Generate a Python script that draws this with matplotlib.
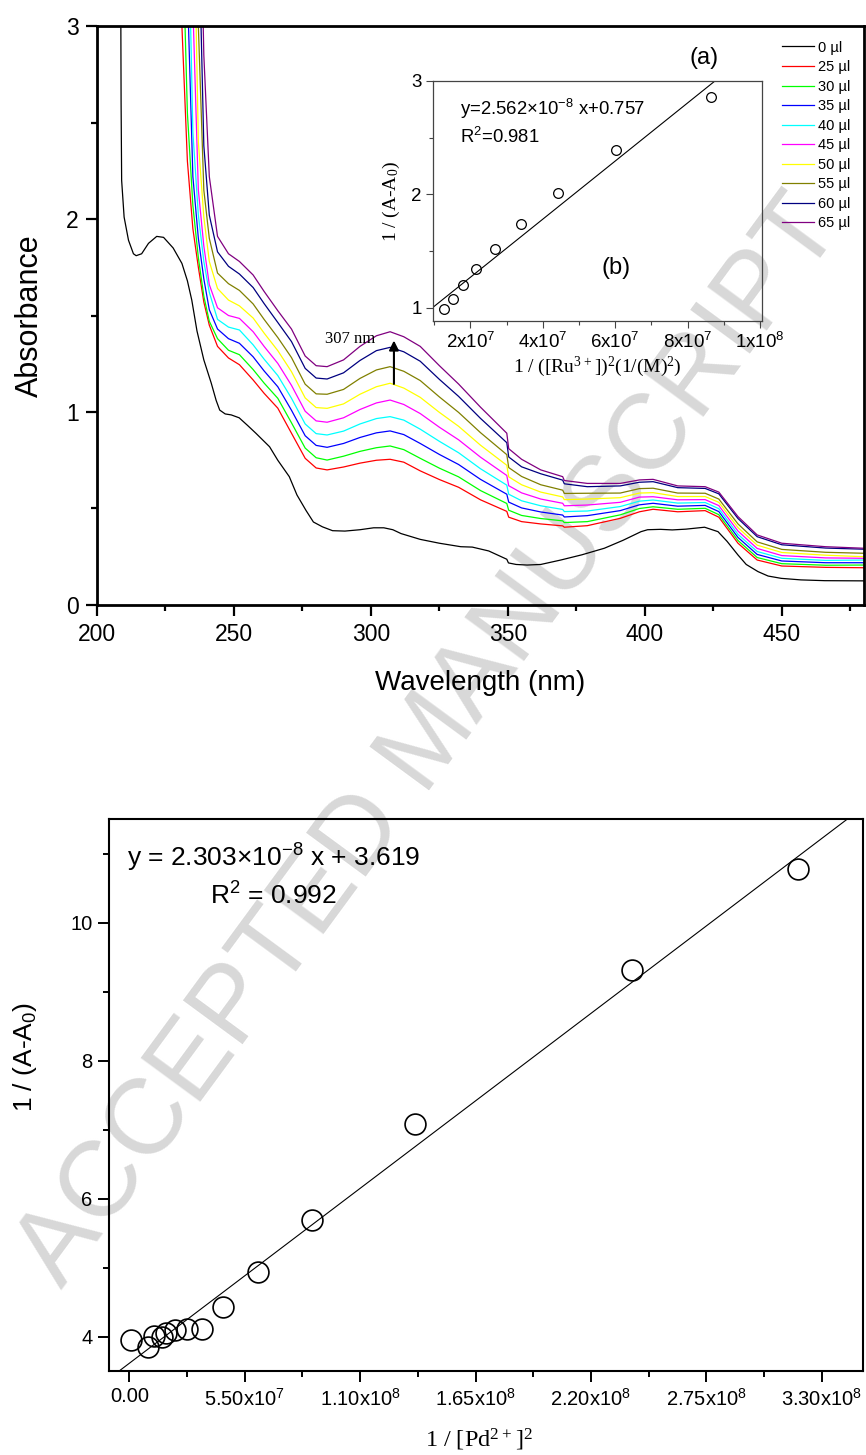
import numpy as np
import matplotlib
matplotlib.use('Agg')
import matplotlib.pyplot as plt
from matplotlib.ticker import MultipleLocator, FixedLocator, FixedFormatter

plt.rcParams['font.family'] = ['Liberation Sans', 'DejaVu Sans']
plt.rcParams['mathtext.default'] = 'regular'
SERIF = ['Liberation Serif', 'DejaVu Serif']

# ---- UV-vis spectra ----
black_wl = [208.6, 208.8, 209.0, 209.9, 211.5, 213.3, 214.3, 216.3, 218.8, 221.8, 224.3, 227.8,
            231, 233, 234.6, 236.5, 239, 241.7, 243.5, 244.8, 246.8, 249, 251.9, 255, 258, 263,
            266, 270.2, 273, 276.3, 279, 282.3, 286, 290.5, 296, 301, 304.7, 308, 311, 318, 325,
            332.8, 337, 343, 349.6, 350.2, 353, 357, 362, 369.3, 377, 385.2, 392, 398.6, 401,
            405.7, 410, 415, 421.8, 426.7, 430, 434, 437, 441.3, 445, 449.8, 457, 465.7, 480]
black_abs = [3.5, 2.6, 2.2, 2.01, 1.89, 1.82, 1.81, 1.82, 1.874, 1.91, 1.905, 1.85,
             1.77, 1.68, 1.58, 1.42, 1.27, 1.15, 1.06, 1.01, 0.99, 0.985, 0.97, 0.93, 0.89, 0.82,
             0.75, 0.665, 0.57, 0.49, 0.43, 0.405, 0.385, 0.383, 0.39, 0.40, 0.40, 0.39, 0.37, 0.34, 0.32,
             0.302, 0.30, 0.28, 0.237, 0.218, 0.21, 0.207, 0.21, 0.233, 0.26, 0.294, 0.335, 0.38, 0.39,
             0.392, 0.389, 0.393, 0.403, 0.38, 0.33, 0.259, 0.21, 0.173, 0.15, 0.138, 0.13, 0.126, 0.125]

wl = [229, 231, 233, 235, 237, 239, 241, 244, 248, 252, 257, 261, 266, 271, 276, 280, 284, 290,
      296, 302, 307, 312, 318, 325, 332, 340, 349.6, 350.3, 355, 362, 370, 370.6, 379, 391, 398,
      403, 412, 422, 427, 434, 441, 450, 466, 480]

abs_25 = [3.8, 3.0, 2.30, 1.95, 1.75, 1.57, 1.45, 1.34, 1.28, 1.245, 1.166, 1.097, 1.02, .89, .76,
          .71, .70, .715, .735, .75, .755, .74, .695, .65, .61, .545, .485, .455, .432, .42, .41,
          .403, .411, .449, .483, .496, .483, .489, .455, .32, .233, .202, .195, .193]
abs_30 = [4.5, 3.6, 2.55, 2.07, 1.80, 1.60, 1.47, 1.38, 1.32, 1.297, 1.220, 1.150, 1.071, .944,
          .813, .763, .751, .771, .796, .815, .824, .805, .760, .709, .664, .593, .526, .491, .464,
          .448, .436, .427, .432, .467, .50, .509, .496, .501, .468, .334, .246, .214, .206, .207]
abs_35 = [5.2, 4.2, 3.2, 2.22, 1.90, 1.69, 1.53, 1.43, 1.38, 1.356, 1.286, 1.213, 1.131, 1.009,
          .877, .827, .817, .837, .868, .892, .902, .883, .837, .780, .728, .651, .574, .533, .503,
          .482, .466, .456, .463, .489, .519, .527, .512, .516, .484, .350, .262, .228, .219, .219]
abs_40 = [6.0, 5.0, 3.8, 2.45, 2.02, 1.78, 1.62, 1.48, 1.44, 1.425, 1.348, 1.274, 1.189, 1.071,
          .938, .888, .881, .901, .938, .966, .976, .958, .911, .848, .789, .706, .621, .574, .540,
          .514, .495, .484, .487, .510, .538, .544, .528, .531, .499, .366, .277, .242, .231, .233]
abs_45 = [6.5, 5.6, 4.6, 3.1, 2.15, 1.86, 1.66, 1.54, 1.50, 1.485, 1.416, 1.340, 1.252, 1.138,
          1.004, .954, .947, .970, 1.013, 1.047, 1.062, 1.039, .992, .921, .856, .766, .671, .618,
          .581, .549, .527, .514, .518, .532, .559, .561, .545, .546, .515, .383, .293, .256, .244, .242]
abs_50 = [7.0, 6.2, 5.5, 3.9, 2.40, 2.01, 1.78, 1.64, 1.58, 1.55, 1.487, 1.409, 1.318, 1.209,
          1.073, 1.023, 1.019, 1.042, 1.092, 1.131, 1.149, 1.124, 1.076, .998, .926, .828, .724,
          .664, .623, .585, .560, .546, .549, .556, .580, .582, .562, .562, .532, .401, .310, .272,
          .258, .250]
abs_55 = [7.5, 7.0, 6.2, 4.6, 3.0, 2.15, 1.90, 1.72, 1.665, 1.63, 1.560, 1.480, 1.386, 1.282,
          1.144, 1.094, 1.092, 1.117, 1.174, 1.218, 1.235, 1.211, 1.163, 1.078, .998, .893, .779,
          .712, .666, .623, .595, .578, .579, .580, .603, .605, .580, .579, .549, .420, .327, .288,
          .273, .268]
abs_60 = [8.0, 7.5, 7.0, 5.5, 3.6, 2.38, 2.02, 1.83, 1.755, 1.715, 1.645, 1.562, 1.464, 1.365,
          1.226, 1.176, 1.171, 1.203, 1.267, 1.318, 1.335, 1.312, 1.263, 1.169, 1.081, .967, .841,
          .767, .716, .680, .647, .628, .613, .617, .636, .639, .608, .604, .576, .448, .354, .312,
          .295, .289]
abs_65 = [8.0, 8.0, 7.5, 6.5, 4.2, 2.85, 2.22, 1.91, 1.82, 1.78, 1.71, 1.625, 1.525, 1.43, 1.29,
          1.24, 1.235, 1.27, 1.34, 1.395, 1.416, 1.39, 1.34, 1.24, 1.145, 1.025, .89, .81, .755,
          .70, .665, .645, .63, .63, .648, .651, .617, .613, .585, .458, .363, .32, .302, .294]

series_labels = ['25 µl', '30 µl', '35 µl', '40 µl', '45 µl', '50 µl', '55 µl', '60 µl', '65 µl']
series_colors = ['#ff0000', '#00ff00', '#0000ff', '#00ffff', '#ff00ff', '#ffff00', '#808000',
                 '#000080', '#800080']
series_values = [abs_25, abs_30, abs_35, abs_40, abs_45, abs_50, abs_55, abs_60, abs_65]

# ---- inset (b): Ru3+ ----
ru_x = [1.28e7, 1.52e7, 1.79e7, 2.16e7, 2.68e7, 3.40e7, 4.43e7, 6.02e7, 8.64e7]
ru_y = [0.99, 1.08, 1.20, 1.34, 1.52, 1.74, 2.01, 2.39, 2.86]
ru_slope, ru_icpt = 2.562e-8, 0.757

# ---- lower plot: Pd2+ ----
pd_x = [0.067e7, 0.906e7, 1.18e7, 1.54e7, 1.75e7, 2.18e7, 2.76e7, 3.48e7, 4.48e7, 6.12e7,
        8.72e7, 13.62e7, 23.97e7, 31.86e7]
pd_y = [3.96, 3.85, 4.02, 4.00, 4.06, 4.10, 4.12, 4.11, 4.43, 4.94, 5.69, 7.09, 9.32, 10.78]
pd_slope, pd_icpt = 2.303e-8, 3.619
pd_ticks = [0, 5.5e7, 1.1e8, 1.65e8, 2.2e8, 2.75e8, 3.3e8]
pd_ticklabels = ['0.00', '5.50x10$^{7}$', '1.10x10$^{8}$', '1.65x10$^{8}$', '2.20x10$^{8}$',
                 '2.75x10$^{8}$', '3.30x10$^{8}$']

fig = plt.figure(figsize=(8.66, 14.55), dpi=100)

# watermark behind everything
fig.text(0.4965, 0.49, 'ACCEPTED MANUSCRIPT', rotation=53.7, ha='center', va='center',
         fontsize=77, color='#d8d8d8', zorder=-5)

# ---------- top: spectra ----------
ax = fig.add_axes([0.112, 0.5842, 0.8857, 0.3979])
ax.set_facecolor('none')
ax.plot(black_wl, black_abs, color='k', lw=0.9, label='0 µl')
for lab, col, vals in zip(series_labels, series_colors, series_values):
    ax.plot(wl, vals, color=col, lw=0.9, label=lab)
ax.set_xlim(200, 480)
ax.set_ylim(0, 3)
ax.xaxis.set_major_locator(MultipleLocator(50))
ax.xaxis.set_minor_locator(MultipleLocator(25))
ax.yaxis.set_major_locator(MultipleLocator(1))
ax.yaxis.set_minor_locator(MultipleLocator(0.5))
ax.tick_params(which='major', direction='out', length=8, width=1.6, labelsize=16.5, pad=5)
ax.tick_params(which='minor', direction='out', length=4.5, width=1.6)
for s in ax.spines.values():
    s.set_linewidth(2)
ax.set_xlabel('Wavelength (nm)', fontsize=20, va='center')
ax.xaxis.set_label_coords(0.5, -0.1347)
ax.set_ylabel('Absorbance', fontsize=22, va='center')
ax.yaxis.set_label_coords(-0.0874, 0.5)

ax.annotate('', xy=(308.4, 1.385), xytext=(308.4, 1.131),
            arrowprops=dict(arrowstyle='-|>', color='k', lw=1.5, mutation_scale=14))
ax.text(283.4, 1.357, '307 nm', fontsize=12, family=SERIF, va='baseline', ha='left')
ax.text(0.7914, 0.9447, '(a)', transform=ax.transAxes, fontsize=17, ha='center', va='center')

leg = ax.legend(loc='upper left', bbox_to_anchor=(0.885, 0.985), frameon=False, fontsize=10.5,
                handlelength=2.2, handletextpad=0.3, labelspacing=0.38, borderaxespad=0)

# ---------- inset ----------
ins = fig.add_axes([0.5, 0.7794, 0.3799, 0.165])
ins.set_facecolor('none')
ins.plot(ru_x, ru_y, 'o', mfc='none', mec='k', ms=7, mew=0.9)
fx = np.array([0.97e7, 1.005e8])
ins.plot(fx, ru_slope * fx + ru_icpt, color='k', lw=0.8)
ins.set_xlim(0.97e7, 1.005e8)
ins.set_ylim(0.885, 3.0)
ins.xaxis.set_major_locator(FixedLocator([2e7, 4e7, 6e7, 8e7, 1e8]))
ins.xaxis.set_major_formatter(FixedFormatter(['2x10$^{7}$', '4x10$^{7}$', '6x10$^{7}$',
                                              '8x10$^{7}$', '1x10$^{8}$']))
ins.xaxis.set_minor_locator(FixedLocator([1e7, 3e7, 5e7, 7e7, 9e7]))
ins.yaxis.set_major_locator(MultipleLocator(1))
ins.yaxis.set_minor_locator(MultipleLocator(0.5))
ins.tick_params(which='major', direction='out', length=5, width=0.8, labelsize=13.5, pad=3,
                color='#444444')
ins.tick_params(which='minor', direction='out', length=3, width=0.8, color='#444444')
for s in ins.spines.values():
    s.set_linewidth(0.9)
    s.set_color('#444444')
ins.set_xlabel('1 / ([Ru$^{3+}$])$^{2}$(1/(M)$^{2}$)', fontsize=14, family=SERIF, va='center')
ins.xaxis.set_label_coords(0.5, -0.192)
ins.set_ylabel('1 / (A-A$_{0}$)', fontsize=14, family=SERIF, va='center')
ins.yaxis.set_label_coords(-0.125, 0.5)
ins.text(0.082, 0.858, 'y=2.562×10$^{-8}$ x+0.757', transform=ins.transAxes, fontsize=13.3,
         va='baseline')
ins.text(0.082, 0.742, 'R$^{2}$=0.981', transform=ins.transAxes, fontsize=13.3, va='baseline')
ins.text(0.556, 0.221, '(b)', transform=ins.transAxes, fontsize=17, ha='center', va='center')

# ---------- bottom: Pd2+ linear fit ----------
bx = fig.add_axes([0.1259, 0.0579, 0.8703, 0.3792])
bx.set_facecolor('none')
bx.plot(pd_x, pd_y, 'o', mfc='none', mec='k', ms=15, mew=1.2)
lx = np.array([-1e7, 3.5e8])
bx.plot(lx, pd_slope * lx + pd_icpt, color='k', lw=0.8)
bx.set_xlim(-0.97e7, 3.495e8)
bx.set_ylim(3.51, 11.5)
bx.xaxis.set_major_locator(FixedLocator(pd_ticks))
bx.xaxis.set_major_formatter(FixedFormatter(pd_ticklabels))
bx.xaxis.set_minor_locator(FixedLocator([2.75e7 + 5.5e7 * k for k in range(6)]))
bx.yaxis.set_major_locator(MultipleLocator(2))
bx.yaxis.set_minor_locator(MultipleLocator(1))
bx.tick_params(which='major', direction='out', length=8, width=1.4, labelsize=14.5, pad=4)
bx.tick_params(which='minor', direction='out', length=4.5, width=1.4)
for s in bx.spines.values():
    s.set_linewidth(1.5)
bx.set_xlabel('1 / [Pd$^{2+}$]$^{2}$', fontsize=17.5, family=SERIF, va='center')
bx.xaxis.set_label_coords(0.491, -0.1256)
bx.set_ylabel('1 / (A-A$_{0}$)', fontsize=19, va='center')
bx.yaxis.set_label_coords(-0.1115, 0.5686)
bx.text(0.0235, 0.9135, 'y = 2.303×10$^{-8}$ x + 3.619', transform=bx.transAxes, fontsize=19,
        va='baseline')
bx.text(0.134, 0.844, 'R$^{2}$ = 0.992', transform=bx.transAxes, fontsize=19, va='baseline')

fig.savefig('out.png', dpi=100)
